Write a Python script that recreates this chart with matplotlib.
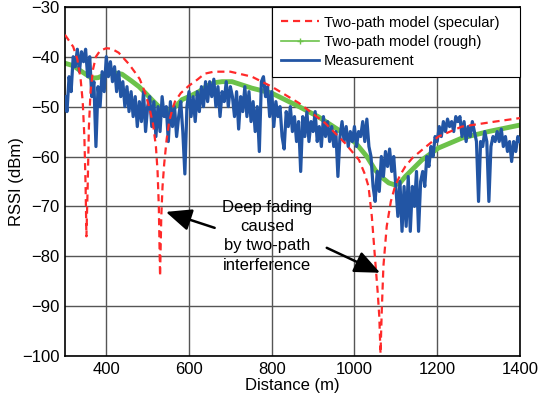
import matplotlib
matplotlib.use("Agg")
import matplotlib.pyplot as plt
from matplotlib.lines import Line2D
import numpy as np

plt.rcParams['font.family'] = ['Liberation Sans', 'DejaVu Sans']

# Specular two-path model (red dashed)
spec_x = [300, 310, 320, 330, 338, 343, 347, 350, 352, 355, 358, 362, 368, 375, 385, 400, 413, 430, 455, 470,
          481, 495, 505, 513, 520, 524, 527, 530, 533, 536, 540, 546, 552, 560, 566, 580, 600, 620, 638, 660,
          700, 752, 800, 866, 929, 977, 1011, 1025, 1034, 1042, 1050, 1056, 1060, 1063, 1066, 1070, 1078, 1088,
          1098, 1110, 1123, 1140, 1163, 1203, 1260, 1340, 1400]
spec_y = [-35.6, -36.8, -38.0, -40.5, -44.5, -49, -56, -66, -76, -66, -54, -47, -42.5, -40, -38.8, -38.3, -38.4, -39.2, -41.5, -43.2,
          -44.5, -47.5, -50.5, -53.5, -58, -63, -70, -84, -72, -66, -61.5, -56.5, -53, -50.5, -49, -47.3, -45.8, -44.6, -43.4, -43.0,
          -43.0, -44.0, -46.0, -49.3, -53.3, -57.3, -60.7, -63.5, -66, -72, -80.7, -87, -92, -99.5, -91, -82, -74, -69,
          -66, -63.8, -62, -60.3, -58.7, -56, -54, -53, -52.3]

# Rough-surface two-path model (green)
rough_x = [300, 320, 341, 365, 380, 397, 418, 438, 460, 479, 495, 510, 527, 542, 555, 570, 583, 600, 624, 645,
           662, 680, 704, 752, 800, 866, 912, 962, 1003, 1030, 1050, 1068, 1083, 1098, 1110, 1123, 1140, 1163,
           1203, 1260, 1324, 1400]
rough_y = [-41.3, -41.8, -43.0, -44.3, -44.2, -43.6, -43.2, -43.5, -44.8, -46.0, -47.3, -48.6, -50.0, -50.7, -50.7, -49.8, -48.6, -48.0, -47.0, -45.8,
           -45.2, -45.0, -45.0, -46.3, -47.3, -50.0, -52.0, -54.7, -57.3, -60.0, -62.7, -64.3, -65.3, -65.7, -65.3, -64.0, -62.6, -60.7,
           -58.3, -56.3, -55.0, -53.7]

# Measurement (blue), 5 m steps from 300 m to 1400 m
meas_x = list(range(300, 1405, 5))
meas_y = [-48, -51, -44, -47, -40, -42, -38.5, -43, -39, -41, -38.5,
          -44, -40, -48, -45, -58, -46, -50, -43, -47, -40,
          -44, -41, -45, -42, -47, -43, -48, -45, -50, -46,
          -51, -47, -52, -48, -54, -49, -53, -47, -55, -50,
          -48, -54, -49, -56, -50, -55, -48, -52, -50, -57,
          -49, -54, -50, -56, -52, -49, -55, -63.5, -50, -47,
          -52, -48, -53, -47, -51, -46, -50, -45, -49, -45,
          -48, -44.5, -50, -46, -52, -47, -49, -45, -50, -46,
          -48, -52, -47, -54.5, -48, -51, -46, -52, -47, -53,
          -49, -55, -50, -59, -45, -44, -48, -46, -52, -47,
          -54, -49, -52, -50, -56, -58.5, -51, -54, -50, -55,
          -52, -57, -53, -63, -52, -56, -51, -57, -53, -55,
          -51, -57, -54, -58, -52, -56, -53, -57, -54, -58,
          -55, -64, -56, -53, -57, -54, -58, -55, -57, -54,
          -58, -55, -56, -53, -57, -52.5, -58, -60, -66, -69,
          -63, -67, -60, -64, -59, -62, -58.5, -63, -60, -66,
          -72, -65, -75, -66, -74, -64, -75, -66, -70, -63,
          -75, -65, -63, -66, -60, -62, -58, -60, -56, -57,
          -54, -56, -53, -55, -52.5, -54, -53, -55, -52, -53,
          -52, -56, -53, -57, -54, -56, -53, -55, -57, -69,
          -57, -58, -55, -57, -69, -58, -56, -57, -55, -57,
          -54.5, -58, -56, -59, -57, -61, -57, -59, -56, -57]

xticks = [400, 600, 800, 1000, 1200, 1400]
yticks = [-100, -90, -80, -70, -60, -50, -40, -30]

fig = plt.figure(figsize=(5.41, 4.01), dpi=100)
ax = fig.add_axes([0.120, 0.112, 0.841, 0.871])

ax.plot(rough_x, rough_y, color='#6cc24a', lw=3.5, zorder=2, solid_capstyle='round')
ax.plot(meas_x, meas_y, color='#2255a4', lw=2.3, zorder=3)
ax.plot(spec_x, spec_y, color='#ff2a2a', lw=1.6, ls=(0, (3.2, 2.2)), zorder=4)

ax.set_xlim(300, 1400)
ax.set_ylim(-100, -30)
ax.set_xticks(xticks)
ax.set_yticks(yticks)
ax.set_yticklabels(['\u2212' + str(abs(v)) for v in yticks])
ax.grid(True, color='#555555', lw=1.0)
ax.set_axisbelow(True)
ax.tick_params(length=0, labelsize=12, pad=4)
for s in ax.spines.values():
    s.set_linewidth(1.2)
    s.set_color('black')
ax.set_xlabel('Distance (m)', fontsize=12, labelpad=1)
ax.set_ylabel('RSSI (dBm)', fontsize=12, labelpad=-1.5)

handles = [
    Line2D([], [], color='#ff2a2a', lw=1.6, ls=(0, (3.2, 2.2))),
    Line2D([], [], color='#6cc24a', lw=1.2, marker='+', markersize=4, markevery=[1]),
    Line2D([], [], color='#2255a4', lw=2.0),
]
leg = ax.legend(handles, ['Two-path model (specular)', 'Two-path model (rough)', 'Measurement'],
                loc='upper left', bbox_to_anchor=(0.455, 0.802, 0.545, 0.198), mode='expand',
                fontsize=10.6, frameon=True, fancybox=False, framealpha=1,
                edgecolor='black', borderaxespad=0, handlelength=2.6, labelspacing=0.36,
                handletextpad=0.35, borderpad=0.6)
leg.get_frame().set_linewidth(0.8)
leg.set_zorder(10)

ax.text(788, -76, 'Deep fading\ncaused\nby two-path\ninterference', ha='center', va='center',
        fontsize=12, linespacing=1.35, zorder=6)
style = '-|>,head_length=0.6,head_width=0.26'
ax.annotate('', xy=(544, -71.1), xytext=(662, -74.3),
            arrowprops=dict(arrowstyle=style, lw=1.8, color='black', mutation_scale=26, shrinkA=0, shrinkB=0),
            zorder=6)
ax.annotate('', xy=(1062, -83.3), xytext=(933, -78.3),
            arrowprops=dict(arrowstyle=style, lw=1.8, color='black', mutation_scale=26, shrinkA=0, shrinkB=0),
            zorder=6)

fig.savefig('out.png', dpi=100)
